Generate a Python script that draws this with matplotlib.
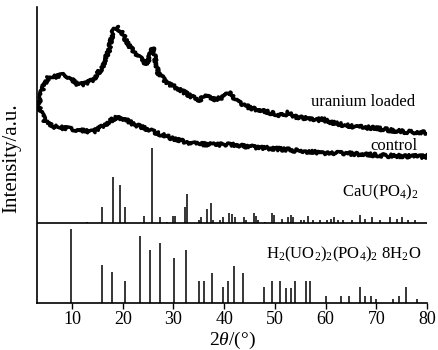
import matplotlib
matplotlib.use("Agg")
from matplotlib import pyplot as plt

plt.rcParams["font.family"] = ["Liberation Serif", "DejaVu Serif"]
plt.rcParams["mathtext.fontset"] = "custom"
plt.rcParams["mathtext.rm"] = "Liberation Serif"
plt.rcParams["mathtext.it"] = "Liberation Serif:italic"

# measured XRD traces (2theta in degrees, intensity in a.u.)
loaded_x = [3.2, 3.5, 4.3, 5.3, 6.6, 8.6, 9.9, 11.2, 12.6, 14.2, 15.9, 17.2, 18.1, 18.8,
            19.8, 21.4, 23.4, 24.4, 25.1, 25.9, 27.0, 28.7, 31.3, 33.9, 35.2, 36.6, 38.2,
            39.5, 41.0, 42.5, 45.1, 49.1, 51.5, 52.6, 54.0, 55.6, 58.0, 59.3, 60.5, 62.2,
            65.5, 68.8, 72.1, 75.3, 80.0]
loaded_y = [118, 120, 136, 145, 146, 148, 143, 138, 139, 143, 155, 171, 191, 196,
            190, 176, 165, 158, 163, 175, 150, 140, 133, 125, 123, 128, 123,
            125, 131, 121, 115, 110, 107, 110, 106, 105, 102, 104, 101, 99,
            96, 95, 93, 91, 90]

control_x = [3.2, 3.5, 4.7, 6.6, 9.3, 11.9, 14.2, 16.5, 18.8, 20.5, 22.4, 24.1, 26.0,
             30.0, 33.9, 37.9, 41.8, 45.1, 52.4, 58.9, 65.5, 72.1, 80.0]
control_y = [116, 116, 101, 96, 94, 92, 91, 98, 106, 103, 98, 95, 91,
             84, 79, 78, 78, 76, 73, 70, 69, 67, 66]

# reference patterns (relative intensity, 100 = strongest line)
cau_pos = [12.9, 15.9, 18.1, 19.4, 20.4, 24.1, 25.7, 27.4, 28.7, 29.9, 30.3, 32.3, 32.7,
           35.0, 35.4, 36.6, 37.4, 37.8, 39.1, 39.7, 41.0, 41.6, 42.1, 43.9, 44.3, 45.8,
           46.2, 46.7, 48.1, 49.5, 49.8, 51.5, 52.5, 53.2, 53.6, 55.2, 55.8, 56.6, 57.6,
           58.9, 60.2, 61.0, 61.7, 62.5, 63.5, 65.2, 66.8, 67.8, 69.1, 70.7, 72.7, 74.0,
           75.0, 76.3, 77.6]
cau_int = [1, 21, 61, 50, 21, 9, 100, 7, 1, 9, 9, 21, 38,
           4, 8, 18, 26, 4, 4, 7, 13, 12, 8, 7, 3, 13,
           9, 4, 1, 13, 11, 5, 8, 11, 8, 4, 3, 9, 4,
           3, 4, 5, 7, 4, 3, 3, 11, 5, 7, 4, 7, 5,
           8, 3, 3]

hup_pos = [9.9, 16.0, 17.9, 20.4, 23.5, 25.4, 27.3, 30.2, 32.4, 35.0, 36.0, 37.6, 39.8,
           40.7, 41.9, 43.7, 47.8, 49.5, 51.1, 52.1, 53.1, 54.0, 56.2, 57.0, 60.0, 63.0,
           64.7, 66.7, 67.8, 68.9, 70.0, 73.3, 74.5, 75.9, 78.1]
hup_int = [100, 51, 41, 30, 90, 71, 80, 60, 71, 30, 30, 40, 21,
           30, 50, 40, 21, 30, 30, 20, 20, 30, 30, 30, 10, 10,
           10, 21, 10, 10, 5, 5, 10, 21, 5]

xticks = [10, 20, 30, 40, 50, 60, 70, 80]

mid = 80.3      # separator between the two panels
scale = 0.745   # stick height per unit of relative intensity

fig = plt.figure(figsize=(4.38, 3.5), dpi=100)
ax = fig.add_axes([37 / 438, 47 / 350, 390 / 438, 296 / 350])

for xs, ys in [(loaded_x, loaded_y), (control_x, control_y)]:
    line, = ax.plot(xs, [mid + v for v in ys], color="black", lw=2.5)
    line.set_sketch_params(scale=1.7, length=1.0, randomness=2)

ax.vlines(cau_pos, mid, [mid + v * scale for v in cau_int], color="black", lw=1.1)
ax.vlines(hup_pos, 0, [v * scale for v in hup_int], color="black", lw=1.1)
ax.axhline(mid, color="black", lw=1.2)

ax.text(77.7, mid + 121, "uranium loaded", ha="right", va="center", fontsize=12)
ax.text(78.2, mid + 77, "control", ha="right", va="center", fontsize=12)
ax.text(78.4, mid + 30, r"CaU(PO$_4$)$_2$", ha="right", va="center", fontsize=12)
ax.text(78.8, 49, r"H$_2$(UO$_2$)$_2$(PO$_4$)$_2$ 8H$_2$O", ha="right", va="center",
        fontsize=12)

ax.set_xlim(3.1, 80)
ax.set_ylim(0, 296)
ax.set_xticks(xticks)
ax.set_yticks([])
ax.tick_params(axis="x", direction="out", length=4, width=1, labelsize=13, pad=2)
for side in ["top", "right"]:
    ax.spines[side].set_visible(False)
ax.spines["left"].set_linewidth(1.2)
ax.spines["bottom"].set_linewidth(1.2)

ax.set_xlabel(r"2$\it{\theta}$/(°)", fontsize=14, labelpad=1)
fig.text(12 / 438, 1 - 158 / 350, "Intensity/a.u.", rotation=90, ha="center",
         va="center", fontsize=15)

fig.savefig("out.png", dpi=100)
